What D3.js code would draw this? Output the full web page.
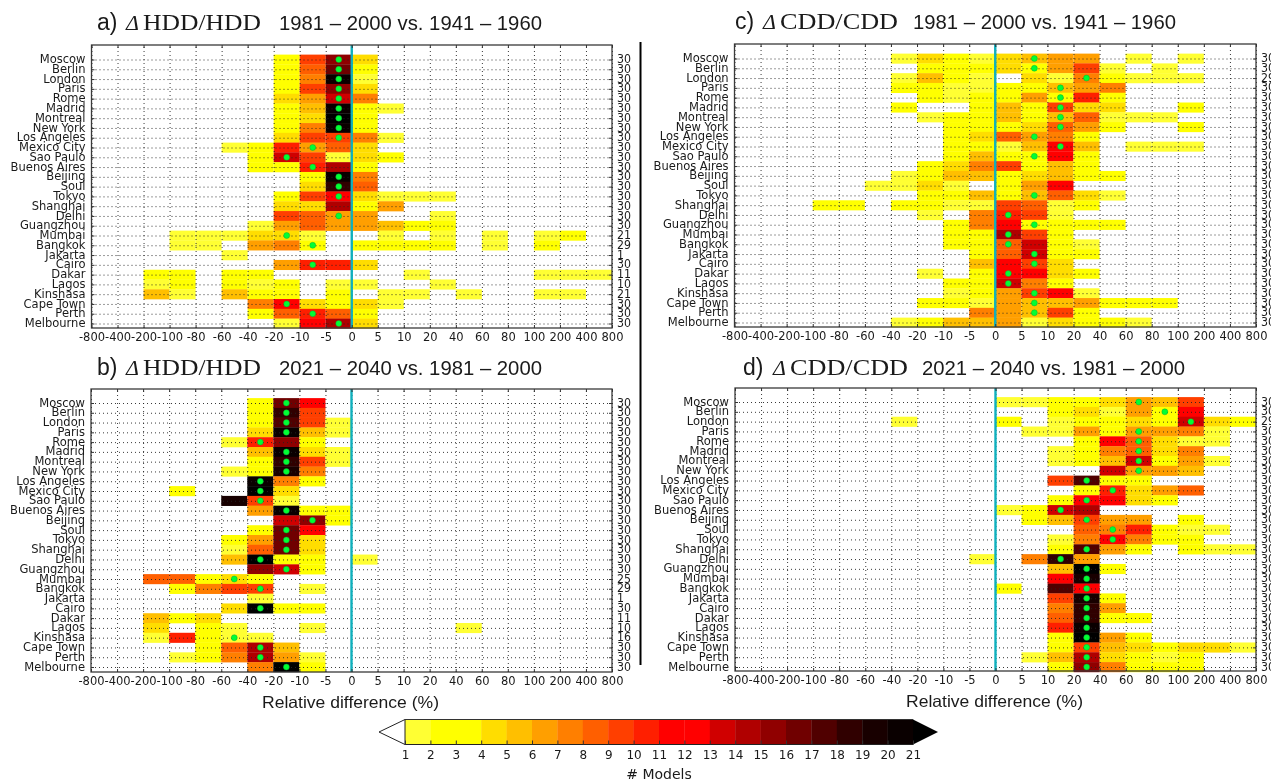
<!DOCTYPE html>
<html><head><meta charset="utf-8">
<script src="https://cdn.jsdelivr.net/npm/d3@7/dist/d3.min.js"></script>
<style>
html,body{margin:0;padding:0;background:#fff;overflow:hidden}
svg{display:block;filter:blur(0.35px)}
text{fill:#1a1a1a}
</style></head><body><svg id="c" width="1271" height="783"></svg>
<script>
const cities=["Moscow","Berlin","London","Paris","Rome","Madrid","Montreal","New York","Los Angeles","Mexico City","Sao Paulo","Buenos Aires","Beijing","Soul","Tokyo","Shanghai","Delhi","Guangzhou","Mumbai","Bangkok","Jakarta","Cairo","Dakar","Lagos","Kinshasa","Cape Town","Perth","Melbourne"];
const binEdges=["-800","-400","-200","-100","-80","-60","-40","-20","-10","-5","0","5","10","20","40","60","80","100","200","400","800"];
const levels=[1,2,3,4,5,6,7,8,9,10,11,12,13,14,15,16,17,18,19,20,21];
const levelColors=["#ffff33","#ffff00","#ffff00","#ffdd00","#ffbf00","#ff9f00","#ff7f00","#ff5f00","#ff3f00","#ff1f00","#ff0000","#ff0000","#d00000","#b00000","#900000","#700000","#500000","#300000","#180000","#0a0000"];
const overColor="#000000";

// model counts per relative-difference bin, one row per city
const hddPast=[
[0,0,0,0,0,0,0,2,9,15,4,0,0,0,0,0,0,0,0,0],
[0,0,0,0,0,0,0,3,8,16,3,0,0,0,0,0,0,0,0,0],
[0,0,0,0,0,0,0,2,7,20,1,0,0,0,0,0,0,0,0,0],
[0,0,0,0,0,0,0,3,9,15,4,0,0,0,0,0,0,0,0,0],
[0,0,0,0,0,0,0,4,6,13,7,0,0,0,0,0,0,0,0,0],
[0,0,0,0,0,0,0,2,5,20,2,1,0,0,0,0,0,0,0,0],
[0,0,0,0,0,0,0,2,4,21,2,0,0,0,0,0,0,0,0,0],
[0,0,0,0,0,0,0,3,7,20,2,0,0,0,0,0,0,0,0,0],
[0,0,0,0,0,0,0,4,9,9,7,1,0,0,0,0,0,0,0,0],
[0,0,0,0,0,1,2,10,6,8,4,0,0,0,0,0,0,0,0,0],
[0,0,0,0,0,0,2,13,9,1,4,2,0,0,0,0,0,0,0,0],
[0,0,0,0,0,0,2,2,10,14,2,0,0,0,0,0,0,0,0,0],
[0,0,0,0,0,0,0,0,3,20,7,0,0,0,0,0,0,0,0,0],
[0,0,0,0,0,0,0,0,4,18,8,0,0,0,0,0,0,0,0,0],
[0,0,0,0,0,0,0,2,9,11,4,1,1,1,0,0,0,0,0,0],
[0,0,0,0,0,0,0,4,4,14,3,6,0,0,0,0,0,0,0,0],
[0,0,0,0,0,0,0,9,8,6,6,0,0,1,0,0,0,0,0,0],
[0,0,0,0,0,0,1,6,8,6,6,5,2,2,0,0,0,0,0,0],
[0,0,0,1,1,1,4,4,1,0,0,1,0,1,0,1,0,1,2,0],
[0,0,0,1,1,0,6,7,2,0,2,2,2,2,0,1,0,2,0,0],
[0,0,0,0,0,1,0,0,0,0,0,0,0,0,0,0,0,0,0,0],
[0,0,0,0,0,0,0,6,10,10,4,0,0,0,0,0,0,0,0,0],
[0,0,2,2,0,2,2,0,0,0,0,0,1,0,0,0,0,1,1,1],
[0,0,1,2,0,2,1,2,0,1,1,0,0,1,0,0,0,0,0,0],
[0,0,5,1,0,5,2,2,0,2,0,1,1,0,1,0,0,1,1,0],
[0,0,0,0,0,0,7,11,4,3,4,1,0,0,0,0,0,0,0,0],
[0,0,0,0,0,0,2,8,10,8,2,0,0,0,0,0,0,0,0,0],
[0,0,0,0,0,0,0,1,11,14,4,0,0,0,0,0,0,0,0,0]];
const hddFuture=[
[0,0,0,0,0,0,2,16,11,0,0,0,0,0,0,0,0,0,0,0],
[0,0,0,0,0,0,2,18,9,0,0,0,0,0,0,0,0,0,0,0],
[0,0,0,0,0,0,3,17,9,1,0,0,0,0,0,0,0,0,0,0],
[0,0,0,0,0,0,4,20,5,1,0,0,0,0,0,0,0,0,0,0],
[0,0,0,0,0,1,10,15,3,0,0,0,0,0,0,0,0,0,0,0],
[0,0,0,0,0,0,5,20,4,1,0,0,0,0,0,0,0,0,0,0],
[0,0,0,0,0,0,2,18,9,1,0,0,0,0,0,0,0,0,0,0],
[0,0,0,0,0,1,2,19,7,0,0,0,0,0,0,0,0,0,0,0],
[0,0,0,0,0,0,20,7,2,0,0,0,0,0,0,0,0,0,0,0],
[0,0,0,2,0,0,21,4,0,0,0,0,0,0,0,0,0,0,0,0],
[0,0,0,0,0,19,9,1,0,0,0,0,0,0,0,0,0,0,0,0],
[0,0,0,0,0,0,6,20,2,2,0,0,0,0,0,0,0,0,0,0],
[0,0,0,0,0,0,0,13,15,2,0,0,0,0,0,0,0,0,0,0],
[0,0,0,0,0,0,2,16,11,0,0,0,0,0,0,0,0,0,0,0],
[0,0,0,0,0,2,6,16,4,0,0,0,0,0,0,0,0,0,0,0],
[0,0,0,0,0,1,8,16,4,0,0,0,0,0,0,0,0,0,0,0],
[0,0,0,0,0,5,21,2,2,0,1,0,0,0,0,0,0,0,0,0],
[0,0,0,0,0,0,15,13,2,0,0,0,0,0,0,0,0,0,0,0],
[0,0,8,8,2,4,2,0,0,0,0,0,0,0,0,0,0,0,0,0],
[0,0,0,2,7,9,9,0,1,0,0,0,0,0,0,0,0,0,0,0],
[0,0,0,0,0,0,1,0,0,0,0,0,0,0,0,0,0,0,0,0],
[0,0,0,0,0,4,21,2,2,0,0,0,0,0,0,0,0,0,0,0],
[0,0,5,2,4,0,0,0,0,0,0,0,0,0,0,0,0,0,0,0],
[0,0,4,0,2,1,0,0,1,0,0,0,0,0,1,0,0,0,0,0],
[0,0,1,10,2,1,1,0,0,0,0,0,0,0,0,0,0,0,0,0],
[0,0,0,0,2,8,14,5,0,0,0,0,0,0,0,0,0,0,0,0],
[0,0,0,1,2,7,14,6,1,0,0,0,0,0,0,0,0,0,0,0],
[0,0,0,0,0,0,7,21,2,0,0,0,0,0,0,0,0,0,0,0]];
const cddPast=[
[0,0,0,0,0,0,1,4,2,1,4,5,6,6,0,1,0,1,0,0],
[0,0,0,0,0,0,0,2,2,2,4,2,6,9,1,0,1,0,0,0],
[0,0,0,0,0,0,1,5,2,1,0,4,1,7,2,1,1,1,0,0],
[0,0,0,0,0,0,2,2,1,1,2,2,5,6,7,0,0,0,0,0],
[0,0,0,0,0,0,0,2,1,2,2,6,2,10,2,0,0,0,0,0],
[0,0,0,0,0,0,2,0,0,2,5,2,9,4,4,0,0,2,0,0],
[0,0,0,0,0,0,0,1,2,2,5,2,5,8,1,1,1,0,0,0],
[0,0,0,0,0,0,0,0,2,2,2,4,8,6,2,0,0,2,0,0],
[0,0,0,0,0,0,0,0,2,4,8,6,7,2,0,0,0,0,0,0],
[0,0,0,0,0,0,0,0,2,2,1,5,11,5,0,1,1,1,0,0],
[0,0,0,0,0,0,0,0,2,5,3,2,11,2,0,0,0,0,0,0],
[0,0,0,0,0,0,0,2,4,7,9,2,5,2,0,0,0,0,0,0],
[0,0,0,0,0,0,1,2,5,5,2,4,5,2,2,0,0,0,0,0],
[0,0,0,0,0,1,1,4,1,0,3,6,11,0,0,0,0,0,0,0],
[0,0,0,0,0,0,0,2,2,5,2,5,8,4,1,0,0,0,0,0],
[0,0,0,2,2,0,2,2,1,1,9,8,1,2,0,0,0,0,0,0],
[0,0,0,0,0,0,0,1,0,7,10,9,1,0,0,0,0,0,0,0],
[0,0,0,0,0,0,0,0,2,7,11,2,2,2,2,0,0,0,0,0],
[0,0,0,0,0,0,0,0,2,2,14,9,2,0,0,0,0,0,0,0],
[0,0,0,0,0,0,0,0,2,2,8,13,2,1,0,0,0,0,0,0],
[0,0,0,0,0,0,0,0,0,3,8,13,2,2,0,0,0,0,0,0],
[0,0,0,0,0,0,0,0,0,5,11,9,4,0,0,0,0,0,0,0],
[0,0,0,0,0,0,0,1,0,2,11,11,4,2,0,0,0,0,0,0],
[0,0,0,0,0,0,0,0,2,3,13,7,2,0,0,0,0,0,0,0],
[0,0,0,0,0,0,0,0,1,2,6,9,11,1,0,0,0,0,0,0],
[0,0,0,0,0,0,0,2,2,1,6,5,5,6,2,2,2,0,0,0],
[0,0,0,0,0,0,0,0,0,7,6,5,9,2,0,0,0,0,0,0],
[0,0,0,0,0,0,1,2,5,5,6,1,4,2,2,1,0,0,0,0]];
const cddFuture=[
[0,0,0,0,0,0,0,0,0,0,1,1,2,2,4,6,5,9,0,0],
[0,0,0,0,0,0,0,0,0,0,0,0,2,4,1,6,2,11,0,0],
[0,0,0,0,0,0,1,0,0,0,2,0,1,2,2,4,2,13,4,2],
[0,0,0,0,0,0,0,0,0,0,0,1,1,6,2,6,6,7,1,0],
[0,0,0,0,0,0,0,0,0,0,0,0,0,2,11,8,4,1,1,0],
[0,0,0,0,0,0,0,0,0,0,0,0,1,2,7,8,4,7,0,0],
[0,0,0,0,0,0,0,0,0,0,0,0,1,2,5,13,2,6,1,0],
[0,0,0,0,0,0,0,0,0,0,0,0,0,0,13,6,6,5,0,0],
[0,0,0,0,0,0,0,0,0,0,0,0,9,17,2,2,0,0,0,0],
[0,0,0,0,0,0,0,0,0,0,0,0,0,2,10,4,6,8,0,0],
[0,0,0,0,0,0,0,0,0,0,0,0,2,11,11,4,2,0,0,0],
[0,0,0,0,0,0,0,0,0,0,1,2,13,14,0,0,0,0,0,0],
[0,0,0,0,0,0,0,0,0,0,0,2,5,9,6,6,0,2,0,0],
[0,0,0,0,0,0,0,0,0,0,0,0,0,8,7,10,2,1,1,0],
[0,0,0,0,0,0,0,0,0,0,0,0,1,7,11,7,2,2,0,0],
[0,0,0,0,0,0,0,0,0,0,0,0,2,17,6,2,0,2,1,1],
[0,0,0,0,0,0,0,0,0,1,0,7,18,6,0,0,0,0,0,0],
[0,0,0,0,0,0,0,0,0,0,0,0,5,21,2,0,0,0,0,0],
[0,0,0,0,0,0,0,0,0,0,0,0,11,19,0,0,0,0,0,0],
[0,0,0,0,0,0,0,0,0,0,2,0,17,11,0,0,0,0,0,0],
[0,0,0,0,0,0,0,0,0,0,0,0,9,19,2,0,0,0,0,0],
[0,0,0,0,0,0,0,0,0,0,0,0,7,18,6,0,0,0,0,0],
[0,0,0,0,0,0,0,0,0,0,0,0,8,18,2,2,0,0,0,0],
[0,0,0,0,0,0,0,0,0,0,0,0,10,20,0,0,0,0,0,0],
[0,0,0,0,0,0,0,0,0,0,0,0,2,21,6,2,0,0,0,0],
[0,0,0,0,0,0,0,0,0,0,0,0,2,9,5,4,2,4,4,1],
[0,0,0,0,0,0,0,0,0,0,0,1,5,14,4,2,1,2,0,0],
[0,0,0,0,0,0,0,0,0,0,0,0,2,15,7,3,2,2,0,0]];

// bin holding the green dot for each city (null: no dot)
const hddPastDot=[9,9,9,9,9,9,9,9,9,8,7,8,9,9,9,null,9,null,7,8,null,8,null,null,null,7,8,9];
const hddFutureDot=[7,7,7,7,6,7,7,7,6,6,6,7,8,7,7,7,6,7,5,6,null,6,null,null,5,6,6,7];
const cddPastDot=[11,11,13,12,12,12,12,12,11,12,11,null,null,null,11,null,10,11,10,10,11,11,10,10,11,11,11,null];
const cddFutureDot=[15,16,17,15,15,15,15,15,13,14,13,12,13,14,14,13,12,13,13,13,13,13,13,13,13,13,13,13];

// number of models per city
const hddPastN=[30,30,30,30,30,30,30,30,30,30,30,30,30,30,30,30,30,30,21,29,1,30,11,10,21,30,30,30];
const hddFutureN=[30,30,30,30,30,30,30,30,30,30,30,30,30,30,30,30,30,30,25,29,1,30,11,10,16,30,30,30];
const cddPastN=[30,30,29,30,30,30,30,30,30,30,30,30,30,30,30,30,30,30,30,30,30,30,30,30,30,30,30,30];
const cddFutureN=[30,30,29,30,30,30,30,30,30,30,30,30,30,30,30,30,30,30,30,30,30,30,30,30,30,30,30,30];

const panels=[
 {tag:"a)",q:"HDD/HDD",years:"1981 – 2000 vs. 1941 – 1960",m:hddPast,d:hddPastDot,n:hddPastN,l:91.5,r:612,t:45,b:328,y0:59.5,y1:323.5,tx:97,qx:126,yx:279,by:30,xl:0},
 {tag:"b)",q:"HDD/HDD",years:"2021 – 2040 vs. 1981 – 2000",m:hddFuture,d:hddFutureDot,n:hddFutureN,l:91,r:612,t:389,b:672,y0:403,y1:667,tx:97,qx:126,yx:279,by:375,xl:350},
 {tag:"c)",q:"CDD/CDD",years:"1981 – 2000 vs. 1941 – 1960",m:cddPast,d:cddPastDot,n:cddPastN,l:734.5,r:1256,t:44,b:327,y0:58.5,y1:322.5,tx:735,qx:763,yx:913,by:29,xl:0},
 {tag:"d)",q:"CDD/CDD",years:"2021 – 2040 vs. 1981 – 2000",m:cddFuture,d:cddFutureDot,n:cddFutureN,l:735,r:1256,t:388,b:671,y0:402,y1:667,tx:743,qx:773,yx:922,by:375,xl:994}
];
const SANS="'DejaVu Sans',sans-serif", LIB="'Liberation Sans',Arial,sans-serif", SER="'Liberation Serif',serif";
const svg=d3.select("#c");
const color=d3.scaleThreshold().domain(levels.slice(1)).range(levelColors.concat([overColor]));

function squeeze(sel,k,anchor){
  sel.attr("text-anchor",anchor).each(function(){
    const s=d3.select(this);
    const x=+s.attr("x")||0,y=+s.attr("y")||0;
    s.attr("transform",`translate(${x},${y-1}) scale(${k},1)`).attr("x",0).attr("y",0);
  });
}

panels.forEach(p=>{
  const x=d3.scalePoint().domain(binEdges).range([p.l,p.r]);
  const y=d3.scalePoint().domain(cities).range([p.y0,p.y1]);
  const rh=y.step();
  const g=svg.append("g");

  // cells
  p.m.forEach((row,i)=>row.forEach((v,j)=>{
    if(!v) return;
    g.append("rect")
     .attr("x",x(binEdges[j])).attr("width",x(binEdges[j+1])-x(binEdges[j]))
     .attr("y",y(cities[i])-rh/2).attr("height",rh+0.3)
     .attr("fill",color(v));
  }));

  // dotted grid
  const gx=g.append("g").attr("transform",`translate(0,${p.b})`)
    .call(d3.axisBottom(x).tickSize(-(p.b-p.t)).tickFormat(""));
  gx.select(".domain").remove();
  gx.selectAll("line").attr("stroke","#222").attr("stroke-width",0.9).attr("stroke-dasharray","1,3");
  const gy=g.append("g").attr("transform",`translate(${p.l},0)`)
    .call(d3.axisRight(y).tickSize(p.r-p.l).tickFormat(""));
  gy.select(".domain").remove();
  gy.selectAll("line").attr("stroke","#222").attr("stroke-width",0.9).attr("stroke-dasharray","1,3");

  // zero line
  g.append("line").attr("x1",x("0")).attr("x2",x("0")).attr("y1",p.t).attr("y2",p.b)
    .attr("stroke","#0fb0bd").attr("stroke-width",2.4);

  // dots
  p.d.forEach((b,i)=>{
    if(b===null) return;
    g.append("circle")
     .attr("cx",(x(binEdges[b])+x(binEdges[b+1]))/2).attr("cy",y(cities[i])).attr("r",3)
     .attr("fill","#00ff33").attr("stroke","#0a9a30").attr("stroke-width",0.4);
  });

  // frame
  g.append("rect").attr("x",p.l).attr("y",p.t).attr("width",p.r-p.l).attr("height",p.b-p.t)
    .attr("fill","none").attr("stroke","#3a3a3a").attr("stroke-width",1.3);

  // axes with labels
  const ax=g.append("g").attr("transform",`translate(0,${p.b})`)
    .call(d3.axisBottom(x).tickSize(0).tickPadding(4.5));
  ax.select(".domain").remove();
  ax.selectAll("text").attr("font-family",SANS).attr("font-size",11.5).attr("fill","#1a1a1a");
  const top=g.append("g").attr("transform",`translate(0,${p.t})`).call(d3.axisTop(x).tickSize(-3).tickFormat(""));
  top.select(".domain").remove(); top.selectAll("line").attr("stroke","#333");
  const bot=g.append("g").attr("transform",`translate(0,${p.b})`).call(d3.axisBottom(x).tickSize(-3).tickFormat(""));
  bot.select(".domain").remove(); bot.selectAll("line").attr("stroke","#333");

  const ay=g.append("g").attr("transform",`translate(${p.l},0)`)
    .call(d3.axisLeft(y).tickSize(-3).tickPadding(6));
  ay.select(".domain").remove(); ay.selectAll("line").attr("stroke","#333");
  ay.selectAll("text").attr("font-family",SANS).attr("font-size",12).attr("fill","#1a1a1a")
    .attr("dy",null).attr("dominant-baseline","central").call(squeeze,0.96,"end");

  const ar=g.append("g").attr("transform",`translate(${p.r},0)`)
    .call(d3.axisRight(y).tickSize(-3).tickPadding(5).tickFormat((c)=>p.n[cities.indexOf(c)]));
  ar.select(".domain").remove(); ar.selectAll("line").attr("stroke","#333");
  ar.selectAll("text").attr("font-family",SANS).attr("font-size",12).attr("fill","#1a1a1a")
    .attr("dy",null).attr("dominant-baseline","central").call(squeeze,0.92,"start");

  // titles
  svg.append("text").attr("x",p.tx).attr("y",p.by).attr("font-family",LIB).attr("font-size",23).text(p.tag);
  svg.append("text").attr("x",p.qx).attr("y",p.by).attr("font-family",SER).attr("font-size",22).attr("font-style","italic").text("Δ");
  svg.append("text").attr("x",p.qx+17).attr("y",p.by).attr("font-family",SER).attr("font-size",23).attr("textLength",118).attr("lengthAdjust","spacingAndGlyphs").text(p.q);
  svg.append("text").attr("x",p.yx).attr("y",p.by).attr("font-family",LIB).attr("font-size",20).attr("textLength",263).attr("lengthAdjust","spacingAndGlyphs").text(p.years);
  if(p.xl){
    svg.append("text").attr("x",p.xl-88).attr("y",p.b+35.5)
      .attr("font-family",LIB).attr("font-size",16.5).attr("textLength",177).attr("lengthAdjust","spacingAndGlyphs").text("Relative difference (%)");
  }
});

// separator
svg.append("line").attr("x1",640.5).attr("x2",640.5).attr("y1",42).attr("y2",665).attr("stroke","#000").attr("stroke-width",2);

// colour bar
const cb=svg.append("g");
const cx=d3.scaleLinear().domain([1,21]).range([405,913]);
const cTop=719.5,cBot=744.5,cMid=(cTop+cBot)/2;
levelColors.forEach((c,i)=>{
  cb.append("rect").attr("x",cx(levels[i])).attr("width",cx(levels[i+1])-cx(levels[i])+0.3)
    .attr("y",cTop).attr("height",cBot-cTop).attr("fill",c);
});
cb.append("path").attr("d",`M${cx(1)},${cTop}L379,${cMid}L${cx(1)},${cBot}Z`).attr("fill","#fff").attr("stroke","#222").attr("stroke-width",1);
cb.append("path").attr("d",`M${cx(21)},${cTop}L938,${cMid}L${cx(21)},${cBot}Z`).attr("fill",overColor);
cb.append("line").attr("x1",cx(1)).attr("x2",cx(21)).attr("y1",cTop).attr("y2",cTop).attr("stroke","#333");
cb.append("line").attr("x1",cx(1)).attr("x2",cx(21)).attr("y1",cBot).attr("y2",cBot).attr("stroke","#222");
const ca=cb.append("g").attr("transform",`translate(0,${cBot})`).call(d3.axisBottom(cx).tickValues(levels).tickFormat(d3.format("d")).tickSize(-4).tickPadding(6));
ca.select(".domain").remove(); ca.selectAll("line").attr("stroke","#333");
ca.selectAll("text").attr("font-family",SANS).attr("font-size",12).attr("fill","#1a1a1a");
cb.append("text").attr("x",659).attr("y",779).attr("text-anchor","middle").attr("font-family",SANS).attr("font-size",14).text("# Models");
</script></body></html>
